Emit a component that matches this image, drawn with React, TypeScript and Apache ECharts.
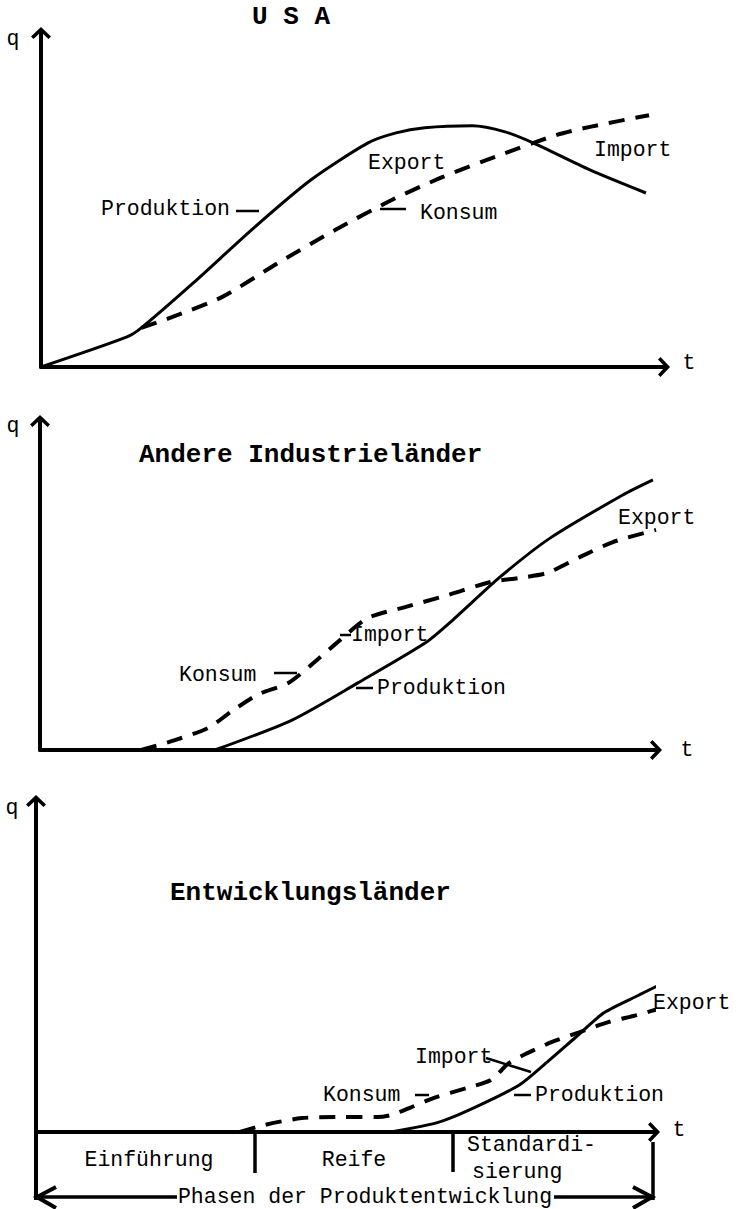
import React, { useEffect, useRef } from "react";
import * as echarts from "echarts";

// ---- Data (t, q) in arbitrary units; 0..100 along each panel's axes ----
// Panel 1: USA
const usaProduktion: [number, number][] = [
  [0, 0], [13.8, 9.0], [16.1, 11.7], [24.4, 25.1], [34.3, 41.9], [43.3, 56.0],
  [52.5, 67.1], [57.0, 70.1], [61.6, 71.6], [69.2, 72.2], [74.5, 70.4],
  [79.0, 67.1], [88.1, 59.0], [97.1, 52.1],
];
const usaKonsum: [number, number][] = [
  [16.1, 11.7], [20.7, 14.7], [29.1, 21.0], [38.0, 31.1], [47.2, 41.0],
  [56.3, 50.0], [64.5, 56.9], [73.7, 63.5], [82.8, 69.5], [88.1, 71.9], [97.6, 75.4],
];
// Panel 2: Andere Industrieländer
const aiProduktion: [number, number][] = [
  [28.4, 0], [40.9, 9.1], [51.6, 20.4], [62.5, 32.5], [67.0, 39.5],
  [74.7, 52.6], [82.8, 64.4], [94.6, 77.5], [99.5, 82.1],
];
const aiKonsum: [number, number][] = [
  [16.4, 0], [21.9, 3.0], [27.3, 6.7], [31.0, 11.6], [35.2, 16.7], [40.3, 20.4],
  [44.0, 25.8], [48.7, 33.4], [53.2, 40.1], [59.4, 43.5], [66.2, 47.1],
  [73.2, 51.1], [77.8, 52.3], [82.3, 53.8], [87.7, 58.7], [93.0, 63.2], [100, 66.9],
];
// Panel 3: Entwicklungsländer
const elProduktion: [number, number][] = [
  [57.4, 0], [65.2, 3.0], [71.2, 7.6], [78.2, 14.2], [82.7, 21.1],
  [87.2, 28.4], [91.9, 36.0], [97.6, 41.4], [101.8, 45.3],
];
const elKonsum: [number, number][] = [
  [33.0, 0], [36.9, 2.1], [43.0, 4.2], [49.2, 4.5], [55.2, 4.5], [57.4, 5.1],
  [60.5, 7.3], [64.4, 10.3], [69.7, 13.3], [73.6, 15.7], [76.5, 20.8],
  [79.6, 23.9], [83.5, 27.2], [88.0, 30.2], [92.6, 33.2], [97.2, 35.3], [101.8, 37.8],
];

const titles = ["U S A", "Andere Industrieländer", "Entwicklungsländer"];
const phaseLabels = ["Einführung", "Reife", "Standardi-", "sierung"];
const phaseCaption = "Phasen der Produktentwicklung";

// ---- Layout ----
const grids = [
  { left: 41, top: 33, width: 623, height: 334 },
  { left: 40, top: 421, width: 616, height: 329 },
  { left: 36, top: 801, width: 618, height: 331 },
];

const FONT = '"Liberation Mono", "DejaVu Sans Mono", monospace';
const LBL = `21.5px ${FONT}`;
const TTL = `bold 26px ${FONT}`;
const CHEVRON = "path://M10,0 L20,9.5 L17.5,12 L10,5 L2.5,12 L0,9.5 Z";

function txt(text: string, x: number, y: number, font = LBL, align = "left") {
  return {
    type: "text",
    x,
    y,
    z: 20,
    style: {
      text,
      font,
      fill: "#000",
      textAlign: align,
      textVerticalAlign: "middle",
      align,
      verticalAlign: "middle",
    },
  };
}
function ln(x1: number, y1: number, x2: number, y2: number, w = 3) {
  return {
    type: "line",
    z: 20,
    shape: { x1, y1, x2, y2 },
    style: { stroke: "#000", lineWidth: w },
  };
}
function pl(points: number[][], w = 4) {
  return {
    type: "polyline",
    z: 20,
    shape: { points },
    style: { stroke: "#000", lineWidth: w, fill: null, lineJoin: "miter" },
  };
}

export default function App() {
  const ref = useRef<HTMLDivElement>(null);
  useEffect(() => {
    if (!ref.current) return;
    const chart = echarts.init(ref.current, null, { renderer: "svg" });
    const axisLine = {
      show: true,
      onZero: false,
      lineStyle: { color: "#000", width: 4 },
      symbol: ["none", CHEVRON],
      symbolSize: [20, 12],
    };
    const xAxis = grids.map((_, i) => ({
      gridIndex: i,
      type: "value",
      min: 0,
      max: 100,
      axisLine,
      axisTick: { show: false },
      axisLabel: { show: false },
      splitLine: { show: false },
    }));
    const yAxis = grids.map((_, i) => ({
      gridIndex: i,
      type: "value",
      min: 0,
      max: 100,
      axisLine,
      axisTick: { show: false },
      axisLabel: { show: false },
      splitLine: { show: false },
    }));
    const mk = (name: string, data: [number, number][], i: number, dashed: boolean) => ({
      name,
      type: "line",
      xAxisIndex: i,
      yAxisIndex: i,
      data,
      smooth: 0.25,
      showSymbol: false,
      symbol: "none",
      clip: false,
      lineStyle: dashed
        ? { color: "#000", width: 4, type: [16, 11] }
        : { color: "#000", width: 3, type: "solid" },
      z: 5,
    });
    const series = [
      mk("Produktion", usaProduktion, 0, false),
      mk("Konsum", usaKonsum, 0, true),
      mk("Produktion", aiProduktion, 1, false),
      mk("Konsum", aiKonsum, 1, true),
      mk("Produktion", elProduktion, 2, false),
      mk("Konsum", elKonsum, 2, true),
    ];
    const graphic = [
      // Panel 1
      txt(titles[0], 252, 17, TTL),
      txt("q", 13, 39, LBL, "center"),
      txt("t", 689, 363, LBL, "center"),
      txt("Produktion", 101, 209),
      ln(236, 211, 259, 211, 2.5),
      txt("Export", 368, 163),
      txt("Konsum", 420, 213),
      ln(380, 209, 406, 209, 2.5),
      txt("Import", 594, 150),
      // Panel 2
      txt(titles[1], 139, 455, TTL),
      txt("q", 13, 426, LBL, "center"),
      txt("t", 687, 750, LBL, "center"),
      txt("Export", 618, 518),
      txt("Import", 351, 635),
      ln(340, 635, 351, 635, 2.5),
      txt("Konsum", 179, 675),
      ln(274, 673, 297, 673, 2.5),
      txt("Produktion", 377, 688),
      ln(356, 688, 373, 688, 2.5),
      // Panel 3
      txt(titles[2], 170, 893, TTL),
      txt("q", 12, 808, LBL, "center"),
      txt("t", 679, 1130, LBL, "center"),
      txt("Export", 653, 1003),
      txt("Import", 415, 1057),
      ln(486, 1058, 531, 1072, 2.5),
      txt("Konsum", 323, 1095),
      ln(415, 1095, 429, 1095, 2.5),
      txt("Produktion", 535, 1095),
      ln(514, 1095, 531, 1095, 2.5),
      // Phases
      txt(phaseLabels[0], 149, 1160, LBL, "center"),
      txt(phaseLabels[1], 354, 1160, LBL, "center"),
      txt(phaseLabels[2], 467, 1145),
      txt(phaseLabels[3], 472, 1172),
      ln(36, 1132, 36, 1200, 4),
      ln(255, 1132, 255, 1173, 3.5),
      ln(453, 1132, 453, 1172, 3.5),
      ln(653, 1142, 653, 1200, 3.5),
      ln(38, 1197, 177, 1197, 3.5),
      ln(554, 1197, 652, 1197, 3.5),
      pl([[56, 1187], [37, 1197], [56, 1208]], 4),
      pl([[633, 1187], [652, 1197], [633, 1208]], 4),
      txt(phaseCaption, 365, 1197, LBL, "center"),
    ];
    chart.setOption({
      animation: false,
      backgroundColor: "#fff",
      grid: grids.map((g) => ({ ...g, containLabel: false })),
      xAxis,
      yAxis,
      series,
      graphic,
    });
    return () => chart.dispose();
  }, []);
  return (
    <div
      ref={ref}
      style={{ position: "absolute", left: 0, top: 0, width: 736, height: 1209 }}
    />
  );
}
